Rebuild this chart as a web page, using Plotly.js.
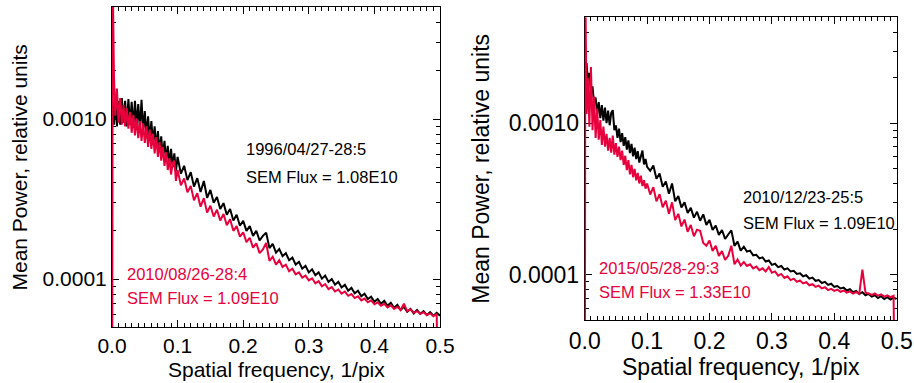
<!DOCTYPE html>
<html>
<head>
<meta charset="utf-8">
<script src="https://cdn.plot.ly/plotly-3.0.1.min.js"></script>
<style>html,body{margin:0;padding:0;background:#fff;}#chart{width:914px;height:383px;}</style>
</head>
<body>
<div id="chart"></div>
<script>
// Spatial frequency bins, 1/pix
const freq = [0,0.001,0.003,0.005,0.0075,0.01,0.0125,0.015,0.0175,
0.02,0.0225,0.025,0.0275,0.03,0.0325,0.035,0.0375,0.04,0.0425,0.045,0.0475,0.05,0.0525,0.055,0.0575,0.06,0.0625,0.065,0.0675,0.07,0.0725,0.075,0.0775,0.08,0.0825,0.085,0.0875,0.09,0.0925,0.095,0.0975,0.1,
0.105,0.11,0.115,0.12,0.125,0.13,0.135,0.14,0.145,0.15,0.155,0.16,0.165,0.17,0.175,0.18,0.185,0.19,0.195,0.2,
0.205,0.21,0.215,0.22,0.225,0.23,0.235,0.24,0.245,0.25,0.255,0.26,0.265,0.27,0.275,0.28,0.285,0.29,0.295,0.3,
0.305,0.31,0.315,0.32,0.325,0.33,0.335,0.34,0.345,0.35,0.355,0.36,0.365,0.37,0.375,0.38,0.385,0.39,0.395,0.4,
0.405,0.41,0.415,0.42,0.425,0.43,0.435,0.44,0.445,0.45,0.455,0.46,0.465,0.47,0.475,0.48,0.485,0.49,0.495,0.5];

// Left panel: 1996/04/27-28:5 (black)
const power1996 = [150e-5,130e-5,92e-5,132e-5,90e-5,130e-5,92e-5,135e-5,95e-5,
130e-5,90e-5,133e-5,92e-5,128e-5,88e-5,130e-5,90e-5,124e-5,86e-5,132e-5,84e-5,112e-5,78e-5,104e-5,73e-5,97e-5,70e-5,90e-5,66e-5,84e-5,62e-5,78e-5,58e-5,73e-5,55e-5,68e-5,52e-5,65e-5,50e-5,61e-5,47.5e-5,58e-5,
45.5e-5,51e-5,41.5e-5,46.5e-5,37.8e-5,42.7e-5,35e-5,41e-5,32.2e-5,36e-5,30e-5,32.5e-5,27.4e-5,29.8e-5,25.2e-5,27.4e-5,23.2e-5,25.2e-5,21.5e-5,23.1e-5,
20e-5,21.4e-5,18.6e-5,20e-5,17.4e-5,18.6e-5,19.5e-5,15.6e-5,16.6e-5,14.6e-5,15.4e-5,13.9e-5,14.5e-5,13.1e-5,13.6e-5,12.3e-5,12.8e-5,11.6e-5,12.1e-5,11.0e-5,
11.5e-5,10.55e-5,11.0e-5,10.05e-5,10.5e-5,9.6e-5,10.0e-5,9.2e-5,9.6e-5,8.85e-5,9.2e-5,8.45e-5,8.8e-5,8.15e-5,8.45e-5,7.8e-5,8.1e-5,7.5e-5,7.75e-5,7.2e-5,
7.5e-5,7.0e-5,7.3e-5,6.8e-5,7.1e-5,6.6e-5,6.9e-5,6.4e-5,6.7e-5,6.25e-5,6.5e-5,6.1e-5,6.4e-5,6.05e-5,6.3e-5,5.95e-5,6.2e-5,5.9e-5,6.15e-5,5.9e-5];

// Left panel: 2010/08/26-28:4 (red)
const power2010a = [0.1e-5,800e-5,185e-5,105e-5,155e-5,95e-5,135e-5,92e-5,122e-5,
90e-5,117e-5,87e-5,111e-5,82e-5,106e-5,79e-5,101e-5,76e-5,97e-5,73e-5,94e-5,71e-5,90e-5,67e-5,86e-5,65e-5,81e-5,61e-5,77e-5,58e-5,72e-5,55e-5,67e-5,51e-5,62e-5,48e-5,57e-5,45e-5,53e-5,55e-5,41e-5,48e-5,
38.5e-5,42.5e-5,34.8e-5,38.2e-5,31e-5,34.4e-5,28.3e-5,32e-5,26e-5,28.7e-5,24.6e-5,27.1e-5,23.2e-5,25.5e-5,21.7e-5,23.6e-5,20e-5,21.4e-5,18.4e-5,19.6e-5,
17e-5,18.1e-5,15.7e-5,16.7e-5,14.5e-5,15.3e-5,16.8e-5,13e-5,13.8e-5,12.3e-5,13.1e-5,11.9e-5,12.3e-5,11.2e-5,11.6e-5,10.7e-5,11.0e-5,10.2e-5,10.5e-5,9.8e-5,
10.1e-5,9.4e-5,9.7e-5,9.0e-5,9.3e-5,8.65e-5,8.9e-5,8.35e-5,8.6e-5,8.1e-5,8.35e-5,7.85e-5,8.05e-5,7.6e-5,7.8e-5,7.35e-5,7.55e-5,7.15e-5,7.35e-5,6.95e-5,
7.15e-5,6.8e-5,7.0e-5,6.65e-5,6.85e-5,6.5e-5,6.7e-5,6.4e-5,7.0e-5,6.3e-5,6.45e-5,6.15e-5,6.3e-5,6.05e-5,6.2e-5,5.95e-5,6.1e-5,5.85e-5,6.05e-5,0.1e-5];

// Right panel: 2010/12/23-25:5 (black)
const power2010b = [300e-5,200e-5,250e-5,190e-5,215e-5,160e-5,175e-5,135e-5,148e-5,
115e-5,138e-5,108e-5,132e-5,104e-5,127e-5,100e-5,121e-5,97e-5,117e-5,122e-5,90e-5,97e-5,80e-5,92e-5,75e-5,86e-5,71e-5,81e-5,67e-5,77e-5,63.5e-5,73e-5,60.5e-5,69e-5,58e-5,65.5e-5,55e-5,62e-5,66e-5,53.5e-5,58e-5,51.5e-5,
48.5e-5,52.5e-5,43e-5,46.5e-5,38e-5,41.2e-5,34.2e-5,40e-5,30.5e-5,33e-5,27.8e-5,30e-5,25.5e-5,27.6e-5,23.8e-5,26e-5,22.7e-5,25e-5,21.3e-5,23e-5,
19.7e-5,21.1e-5,18.3e-5,19.7e-5,17.2e-5,18.4e-5,19.6e-5,15.5e-5,16.5e-5,14.4e-5,15.3e-5,14.2e-5,14.4e-5,13.4e-5,13.5e-5,12.8e-5,13.0e-5,12.2e-5,12.4e-5,11.6e-5,
11.8e-5,11.2e-5,11.4e-5,10.8e-5,11.0e-5,10.5e-5,10.6e-5,10.1e-5,10.2e-5,9.75e-5,9.9e-5,9.4e-5,9.55e-5,9.1e-5,9.2e-5,8.8e-5,8.95e-5,8.55e-5,8.7e-5,8.3e-5,
8.4e-5,8.1e-5,8.2e-5,7.85e-5,8.0e-5,7.65e-5,7.8e-5,7.45e-5,7.65e-5,7.3e-5,7.45e-5,7.15e-5,7.3e-5,7.0e-5,7.2e-5,6.9e-5,7.1e-5,6.85e-5,7.05e-5,6.9e-5];

// Right panel: 2015/05/28-29:3 (red)
const power2015 = [0.1e-5,800e-5,115e-5,200e-5,95e-5,235e-5,90e-5,150e-5,80e-5,
125e-5,78e-5,105e-5,72e-5,95e-5,70e-5,85e-5,66e-5,80e-5,64e-5,83e-5,62e-5,74e-5,60e-5,70e-5,57e-5,66e-5,53e-5,61e-5,49e-5,57e-5,46e-5,53e-5,44e-5,50e-5,42e-5,47e-5,40e-5,45e-5,38.5e-5,42e-5,37e-5,40e-5,
33.8e-5,37.8e-5,30.5e-5,34e-5,27.8e-5,30.8e-5,25.2e-5,30e-5,22.9e-5,25.2e-5,20.8e-5,23.1e-5,19.2e-5,21.3e-5,17.9e-5,19.8e-5,19.5e-5,16.2e-5,15.5e-5,16.8e-5,
14.3e-5,15.5e-5,13.3e-5,14.3e-5,12.5e-5,13.3e-5,15.5e-5,11.7e-5,12.6e-5,11.5e-5,12.1e-5,11.4e-5,11.7e-5,11.0e-5,11.3e-5,10.7e-5,11.0e-5,10.5e-5,11.2e-5,10.3e-5,
10.5e-5,9.85e-5,10.1e-5,9.5e-5,9.75e-5,9.2e-5,9.4e-5,8.95e-5,9.15e-5,8.75e-5,8.9e-5,8.5e-5,8.65e-5,8.3e-5,8.45e-5,8.1e-5,8.25e-5,7.9e-5,8.05e-5,7.8e-5,
7.95e-5,7.7e-5,7.85e-5,7.6e-5,7.75e-5,7.5e-5,7.65e-5,7.45e-5,10.8e-5,7.6e-5,7.5e-5,7.35e-5,7.5e-5,7.25e-5,7.4e-5,7.15e-5,7.3e-5,7.1e-5,7.25e-5,0.1e-5];

const xTickVals = [0, 0.1, 0.2, 0.3, 0.4, 0.5];
const xTickText = ['0.0', '0.1', '0.2', '0.3', '0.4', '0.5'];
const yTickVals = [1e-4, 1e-3];
const yTickText = ['0.0001', '0.0010'];
const yMinorVals = [5e-5,6e-5,7e-5,8e-5,9e-5,2e-4,3e-4,4e-4,5e-4,6e-4,7e-4,8e-4,9e-4,2e-3,3e-3,4e-3,5e-3];

const labelsLeft = ['1996/04/27-28:5', 'SEM Flux = 1.08E10', '2010/08/26-28:4', 'SEM Flux = 1.09E10'];
const labelsRight = ['2010/12/23-25:5', 'SEM Flux = 1.09E10', '2015/05/28-29:3', 'SEM Flux = 1.33E10'];
const xTitle = 'Spatial frequency, 1/pix';
const yTitle = 'Mean Power, relative units';

const RED = '#e8003d';
const FONT = 'Liberation Sans, Arial, Helvetica, sans-serif';
const LW = 2;

const traces = [
  {x: freq, y: power1996, xaxis: 'x', yaxis: 'y', mode: 'lines', line: {color: '#000', width: LW}, hoverinfo: 'skip'},
  {x: freq, y: power2010a, xaxis: 'x', yaxis: 'y', mode: 'lines', line: {color: RED, width: LW}, hoverinfo: 'skip'},
  {x: freq, y: power2010b, xaxis: 'x2', yaxis: 'y2', mode: 'lines', line: {color: '#000', width: LW}, hoverinfo: 'skip'},
  {x: freq, y: power2015, xaxis: 'x2', yaxis: 'y2', mode: 'lines', line: {color: RED, width: LW}, hoverinfo: 'skip'}
];

function xAxis(domain, anchor, fs) {
  return {
    domain: domain, anchor: anchor, range: [0, 0.5],
    tickmode: 'array', tickvals: xTickVals, ticktext: xTickText,
    ticks: 'inside', ticklen: 7, tickwidth: 1, tickcolor: '#000',
    minor: {dtick: 0.01, ticks: 'inside', ticklen: 4, tickwidth: 1, tickcolor: '#000', showgrid: false},
    showline: true, linecolor: '#000', linewidth: 1, mirror: 'ticks',
    showgrid: false, zeroline: false, layer: 'below traces',
    tickfont: {family: FONT, size: fs, color: '#000'}
  };
}
function yAxis(domain, anchor, fs) {
  return {
    domain: domain, anchor: anchor, type: 'log', range: [-4.3, -2.3],
    tickmode: 'array', tickvals: yTickVals, ticktext: yTickText,
    ticks: 'inside', ticklen: 7, tickwidth: 1, tickcolor: '#000',
    minor: {tickmode: 'array', tickvals: yMinorVals, ticks: 'inside', ticklen: 4, tickwidth: 1, tickcolor: '#000', showgrid: false},
    showline: true, linecolor: '#000', linewidth: 1, mirror: 'ticks',
    showgrid: false, zeroline: false, layer: 'below traces',
    tickfont: {family: FONT, size: fs, color: '#000'}
  };
}

function label(text, x, y, color) {
  return {text: text, xref: 'paper', yref: 'paper', x: x, y: y, xanchor: 'left', yanchor: 'middle',
    showarrow: false, font: {family: FONT, size: 16.5, color: color}};
}
function title(text, x, y, angle, fs) {
  return {text: text, xref: 'paper', yref: 'paper', x: x, y: y, xanchor: 'center', yanchor: 'middle',
    showarrow: false, textangle: angle, font: {family: FONT, size: fs, color: '#000'}};
}

const layout = {
  width: 914, height: 383,
  margin: {l: 0, r: 0, t: 0, b: 0},
  paper_bgcolor: '#fff', plot_bgcolor: '#fff',
  showlegend: false,
  xaxis: xAxis([0.12254, 0.48140], 'y', 21),
  yaxis: yAxis([0.14621, 0.98172], 'x', 21),
  xaxis2: xAxis([0.63972, 0.98107], 'y2', 23),
  yaxis2: yAxis([0.16449, 0.95483], 'x2', 23),
  annotations: [
    label(labelsLeft[0], 0.26696, 0.61097, '#000'),
    label(labelsLeft[1], 0.26696, 0.53786, '#000'),
    label(labelsLeft[2], 0.13676, 0.28460, RED),
    label(labelsLeft[3], 0.13676, 0.22193, RED),
    label(labelsRight[0], 0.81039, 0.48564, '#000'),
    label(labelsRight[1], 0.81039, 0.41775, '#000'),
    label(labelsRight[2], 0.65350, 0.30026, RED),
    label(labelsRight[3], 0.65350, 0.23760, RED),
    title(yTitle, 0.02079, 0.56266, -90, 21),
    title(yTitle, 0.52593, 0.55875, -90, 23),
    title(xTitle, 0.30197, 0.03655, 0, 21),
    title(xTitle, 0.81039, 0.04178, 0, 23)
  ]
};

Plotly.newPlot('chart', traces, layout, {staticPlot: true, displayModeBar: false});
</script>
</body>
</html>
